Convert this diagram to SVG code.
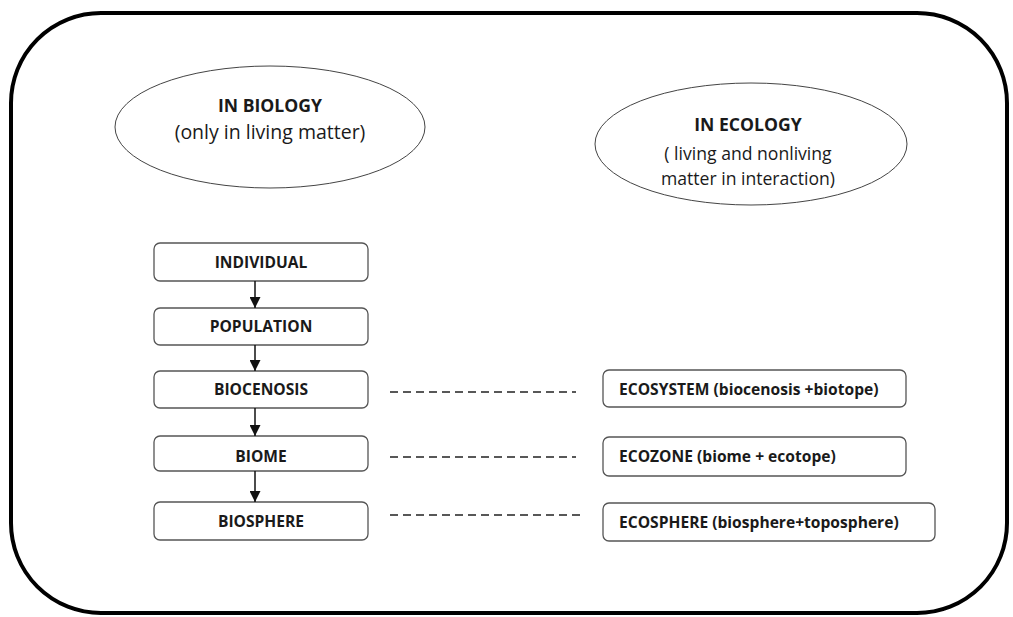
<svg xmlns="http://www.w3.org/2000/svg" width="1013" height="617" viewBox="0 0 1013 617">
<style>
text{font-family:"Open Sans","Liberation Sans",sans-serif;fill:#1a1a1a}
.b{font-weight:bold;font-size:15.6px}
.c{text-anchor:middle}
.n{font-size:19.5px}
.e{font-size:17.6px}
.h{font-weight:bold;font-size:17.6px}
.box{fill:#fff;stroke:#555;stroke-width:1.3}
.ell{fill:#fff;stroke:#444;stroke-width:1}
.arr{stroke:#111;stroke-width:1.5;fill:none;marker-end:url(#ah)}
.dash{stroke:#222;stroke-width:1.6;stroke-dasharray:8 5;fill:none}
</style>
<defs>
<marker id="ah" viewBox="0 0 10 10" refX="10" refY="5" markerWidth="11" markerHeight="11" markerUnits="userSpaceOnUse" orient="auto">
<path d="M0,0 L10,5 L0,10 z" fill="#111"/>
</marker>
</defs>
<rect width="1013" height="617" fill="#fff"/>
<rect id="frame" x="11" y="13" width="996" height="600" rx="90" ry="90" fill="none" stroke="#000" stroke-width="4"/>
<g id="biology">
<ellipse class="ell" cx="270" cy="127" rx="155" ry="61"/>
<text class="c h" x="270" y="112">IN BIOLOGY</text>
<text class="c n" x="270" y="139">(only in living matter)</text>
</g>
<g id="ecology">
<ellipse class="ell" cx="751" cy="144" rx="156" ry="61"/>
<text class="c h" x="748" y="131">IN ECOLOGY</text>
<text class="c e" x="748" y="160">( living and nonliving</text>
<text class="c e" x="748" y="185">matter in interaction)</text>
</g>
<g id="individual"><rect class="box" x="154" y="243" width="214" height="38" rx="6"/><text class="c b" x="261" y="268">INDIVIDUAL</text></g>
<g id="population"><rect class="box" x="154" y="308" width="214" height="37" rx="6"/><text class="c b" x="261" y="332">POPULATION</text></g>
<g id="biocenosis"><rect class="box" x="154" y="371" width="214" height="37" rx="6"/><text class="c b" x="261" y="395">BIOCENOSIS</text></g>
<g id="biome"><rect class="box" x="154" y="436" width="214" height="35" rx="6"/><text class="c b" x="261" y="462">BIOME</text></g>
<g id="biosphere"><rect class="box" x="154" y="502" width="214" height="38" rx="6"/><text class="c b" x="261" y="527">BIOSPHERE</text></g>
<g id="ecosystem"><rect class="box" x="603" y="370" width="303" height="37" rx="6"/><text class="b" x="619" y="395">ECOSYSTEM (biocenosis +biotope)</text></g>
<g id="ecozone"><rect class="box" x="603" y="437" width="303" height="39" rx="6"/><text class="b" x="619" y="462">ECOZONE (biome + ecotope)</text></g>
<g id="ecosphere"><rect class="box" x="603" y="503" width="332" height="38" rx="6"/><text class="b" x="619" y="528">ECOSPHERE (biosphere+toposphere)</text></g>
<g id="connectors">
<line class="arr" x1="255" y1="281" x2="255" y2="308"/>
<line class="arr" x1="255" y1="345" x2="255" y2="371"/>
<line class="arr" x1="255" y1="408" x2="255" y2="436"/>
<line class="arr" x1="255" y1="471" x2="255" y2="502"/>
<line class="dash" x1="390" y1="392" x2="576" y2="392"/>
<line class="dash" x1="390" y1="457" x2="576" y2="457"/>
<line class="dash" x1="390" y1="515" x2="582" y2="515"/>
</g>
</svg>
